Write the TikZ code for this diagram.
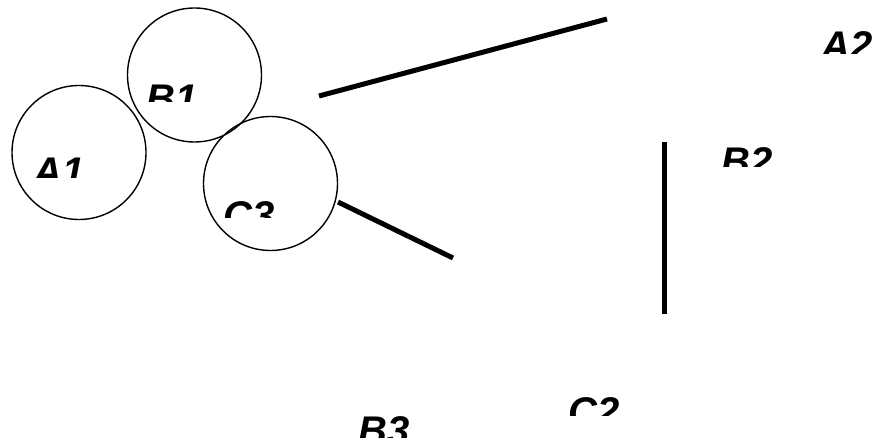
\documentclass[tikz,border=0pt]{standalone}
\usepackage{fontspec}
\setmainfont{Liberation Sans}
\begin{document}
\begin{tikzpicture}[x=1pt,y=-1pt,
  ring/.style={circle,draw=black,line width=1.4pt,minimum size=134pt,inner sep=0pt},
  bar/.style={draw=black,line width=5pt,line cap=butt},
  lab/.style={anchor=base west,inner sep=0pt,font=\fontsize{40}{46}\selectfont\bfseries\itshape}]
\useasboundingbox (0,0) rectangle (872,443);
% circles
\node[ring] (cA1) at (79,152.5) {};
\node[ring] (cB1) at (194.5,75) {};
\node[ring] (cC3) at (270.5,183.5) {};
% lines
\coordinate (p1) at (319,96);
\coordinate (p2) at (607,19);
\coordinate (q1) at (338,202);
\coordinate (q2) at (453,258);
\coordinate (r1) at (664,142);
\coordinate (r2) at (664,314);
\draw[bar] (p1) -- (p2);
\draw[bar] (q1) -- (q2);
\draw[bar] (r1) -- (r2);
% clipped labels
\begin{scope}\clip (20,140) rectangle (110,178);
\node[lab] (tA1) at (33,185.5) {A1};\end{scope}
\begin{scope}\clip (130,70) rectangle (220,102);
\node[lab] (tB1) at (146,112.5) {B1};\end{scope}
\begin{scope}\clip (210,190) rectangle (300,218);
\node[lab] (tC3) at (223,229.5) {C3};\end{scope}
\begin{scope}\clip (800,20) rectangle (872,54);
\node[lab] (tA2) at (821,59.5) {A2};\end{scope}
\begin{scope}\clip (710,135) rectangle (800,167);
\node[lab] (tB2) at (721,175.5) {B2};\end{scope}
\begin{scope}\clip (340,405) rectangle (430,437);
\node[lab] (tB3) at (358,444.5) {B3};\end{scope}
\begin{scope}\clip (550,385) rectangle (640,415);
\node[lab] (tC2) at (568,425.5) {C2};\end{scope}
\end{tikzpicture}
\end{document}
